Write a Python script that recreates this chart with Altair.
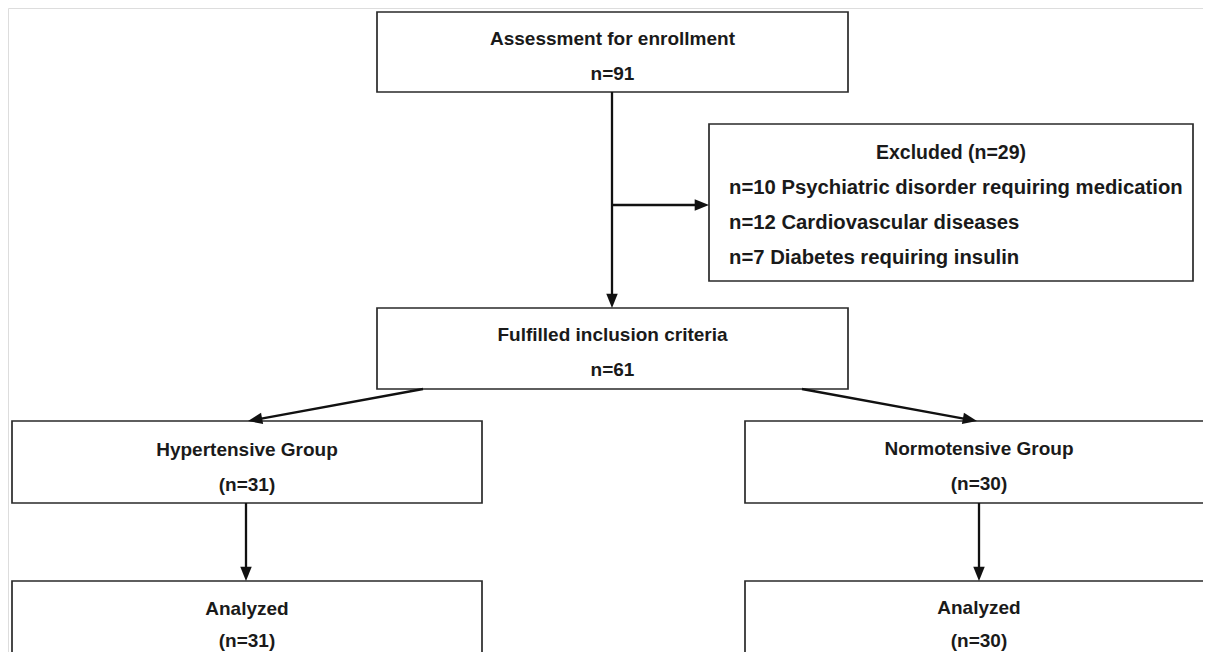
import altair as alt
import pandas as pd
import numpy as np

# ---------------- content ----------------
stage_titles = ["Assessment for enrollment", "Fulfilled inclusion criteria",
                "Hypertensive Group", "Normotensive Group", "Analyzed", "Analyzed"]
stage_counts = [91, 61, 31, 30, 31, 30]
count_wrapped = [False, False, True, True, True, True]   # "(n=..)" vs "n=.."
excluded_total = 29
excluded_counts = [10, 12, 7]
excluded_reasons = ["Psychiatric disorder requiring medication",
                    "Cardiovascular diseases",
                    "Diabetes requiring insulin"]

# ---------------- layout (page pixels) ----------------
stage_x1 = [377, 377, 12, 745, 12, 745]
stage_x2 = [848, 848, 482, 1213, 482, 1213]
stage_y1 = [12, 308, 421, 421, 581, 581]
stage_y2 = [92, 389, 503, 503, 700, 700]
stage_title_y = [39, 335, 450, 449, 609, 608]
stage_count_y = [74, 370, 485, 484, 641, 641]
excl_box = dict(x1=709, x2=1193, y1=124, y2=281)
excl_title_y = 153
excl_line_x = 729
excl_line_y = [188, 223, 258]

edge_x1 = [612, 612, 423, 802, 246, 979]
edge_y1 = [92, 205, 389, 389, 503, 503]
edge_x2 = [612, 709, 248, 977, 246, 979]
edge_y2 = [308, 205, 421, 421, 581, 581]

FONT = "Liberation Sans"
FS = 19
FS_EXT = 19.5
FS_EXL = 20.3
TXT = "#1a1a1a"
W, H = 1195, 644
X0, Y0 = 8, 8

# ---------------- tables ----------------
boxes = pd.DataFrame({
    "x1": stage_x1 + [excl_box["x1"]],
    "x2": stage_x2 + [excl_box["x2"]],
    "y1": stage_y1 + [excl_box["y1"]],
    "y2": stage_y2 + [excl_box["y2"]],
})

count_text = [f"(n={c})" if w else f"n={c}" for c, w in zip(stage_counts, count_wrapped)]
centered = pd.DataFrame({
    "x": [(a + b) / 2 for a, b in zip(stage_x1, stage_x2)] * 2,
    "y": stage_title_y + stage_count_y,
    "t": stage_titles + count_text,
})
excl_title = pd.DataFrame({
    "x": [(excl_box["x1"] + excl_box["x2"]) / 2],
    "y": [excl_title_y],
    "t": [f"Excluded (n={excluded_total})"],
})
left_text = pd.DataFrame({
    "x": [excl_line_x] * len(excluded_reasons),
    "y": excl_line_y,
    "t": [f"n={c} {r}" for c, r in zip(excluded_counts, excluded_reasons)],
})

ex1, ey1, ex2, ey2 = map(np.array, (edge_x1, edge_y1, edge_x2, edge_y2))
dx, dy = ex2 - ex1, ey2 - ey1
L = np.hypot(dx, dy)
edges = pd.DataFrame({
    "x": ex1, "y": ey1,
    "x2": ex2 - dx / L * 8, "y2": ey2 - dy / L * 8,
    "tx": ex2, "ty": ey2,
    "ang": np.mod(np.degrees(np.arctan2(-dx, dy)), 360),
})

xs = alt.Scale(domain=[X0, X0 + W], nice=False, zero=False)
ys = alt.Scale(domain=[Y0, Y0 + H], nice=False, zero=False, reverse=True)

rects = alt.Chart(boxes).mark_rect(fill="white", stroke="#2a2a2a", strokeWidth=1.7, clip=True).encode(
    x=alt.X("x1:Q", scale=xs, axis=None), x2="x2:Q",
    y=alt.Y("y1:Q", scale=ys, axis=None), y2="y2:Q",
)

lines = alt.Chart(edges).mark_rule(color="#111111", strokeWidth=2.3, clip=True).encode(
    x=alt.X("x:Q", scale=xs, axis=None), x2="x2:Q",
    y=alt.Y("y:Q", scale=ys, axis=None), y2="y2:Q",
)

heads = alt.Chart(edges).mark_point(
    shape="M0,0 L-0.4,-1 L0.4,-1 Z", size=820, filled=True, fill="#111111",
    opacity=1, strokeWidth=0, clip=True,
).encode(
    x=alt.X("tx:Q", scale=xs, axis=None),
    y=alt.Y("ty:Q", scale=ys, axis=None),
    angle=alt.Angle("ang:Q", scale=None),
)

ctext = alt.Chart(centered).mark_text(
    font=FONT, fontSize=FS, fontWeight="bold", color=TXT, align="center", baseline="middle",
).encode(
    x=alt.X("x:Q", scale=xs, axis=None), y=alt.Y("y:Q", scale=ys, axis=None), text="t:N",
)

etext = alt.Chart(excl_title).mark_text(
    font=FONT, fontSize=FS_EXT, fontWeight="bold", color=TXT, align="center", baseline="middle",
).encode(
    x=alt.X("x:Q", scale=xs, axis=None), y=alt.Y("y:Q", scale=ys, axis=None), text="t:N",
)

ltext = alt.Chart(left_text).mark_text(
    font=FONT, fontSize=FS_EXL, fontWeight="bold", color=TXT, align="left", baseline="middle",
).encode(
    x=alt.X("x:Q", scale=xs, axis=None), y=alt.Y("y:Q", scale=ys, axis=None), text="t:N",
)

chart = alt.layer(rects, lines, heads, ctext, etext, ltext).properties(
    width=W, height=H, padding=0, autosize=alt.AutoSizeParams(type="none"),
).configure_view(stroke=None).configure(background="white")

chart.save("out.html", embed_options={"renderer": "svg", "actions": False})
